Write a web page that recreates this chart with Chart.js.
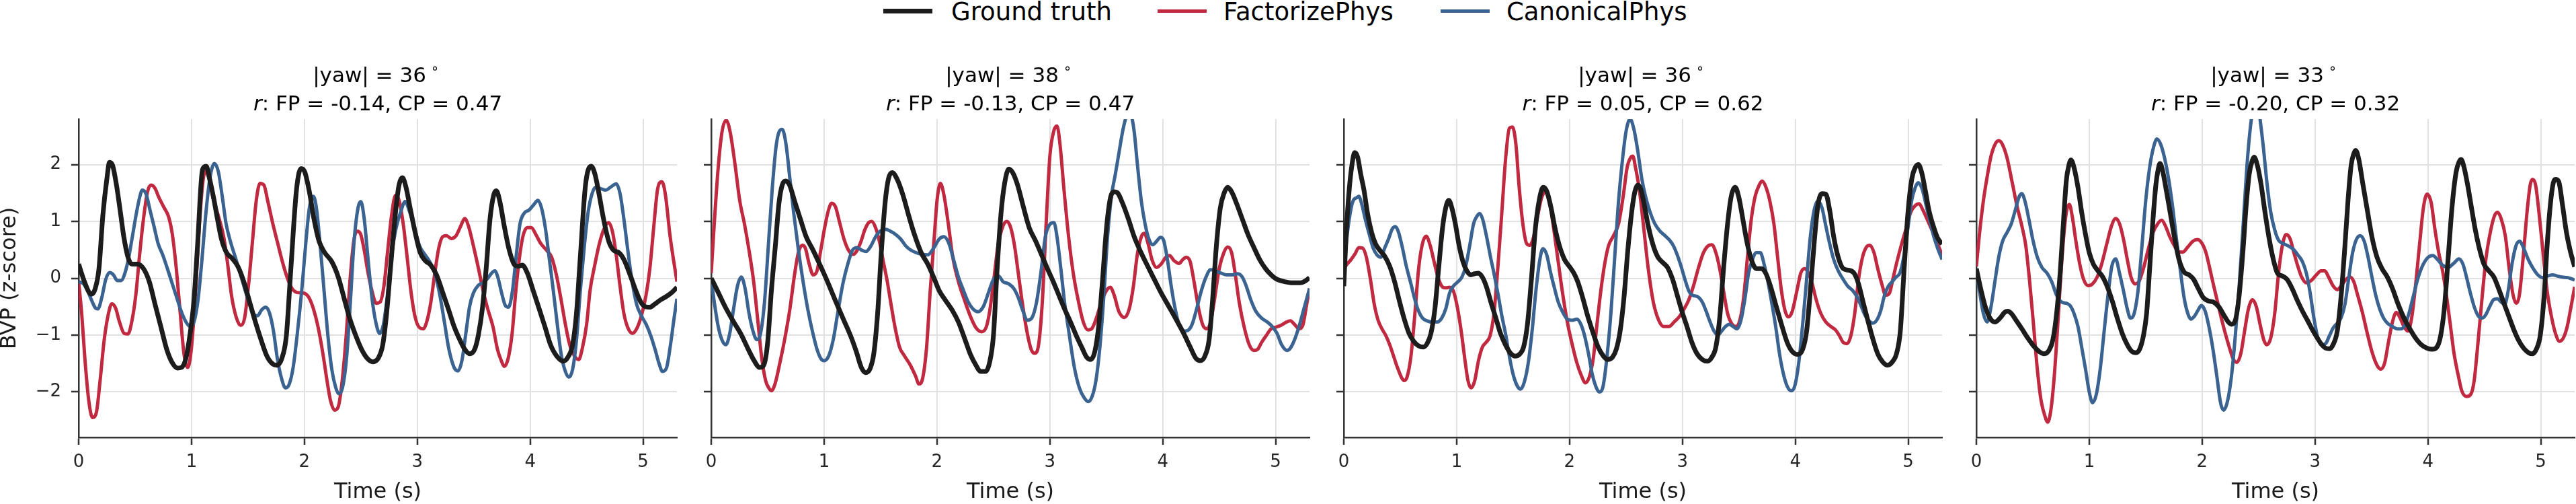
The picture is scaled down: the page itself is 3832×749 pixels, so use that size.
<!DOCTYPE html>
<html>
<head>
<meta charset="utf-8">
<title>BVP predictions vs ground truth</title>
<script src="https://cdn.jsdelivr.net/npm/chart.js@4.4.1/dist/chart.umd.min.js"></script>
<style>
  html, body { margin: 0; padding: 0; background: #fff; }
  #fig { position: relative; width: 3832px; height: 749px; overflow: hidden; font-family: 'DejaVu Sans', sans-serif; }
  #fig canvas { position: absolute; top: 0; }
  .lg-line { position: absolute; }
  .lg-text { position: absolute; font-size: 37px; line-height: 37px; color: #000; white-space: nowrap; }
</style>
</head>
<body>
<div id="fig"></div>
<script>
// ---- values: [time (s), BVP z-score] ----
const legendLabels = ['Ground truth', 'FactorizePhys', 'CanonicalPhys'];
const yawDeg = [36, 38, 36, 33];
const rFP = [-0.14, -0.13, 0.05, -0.20];
const rCP = [0.47, 0.47, 0.62, 0.32];
const xTicks = [0, 1, 2, 3, 4, 5];
const yTicks = [-2, -1, 0, 1, 2];

// panel 1
const gt1 = [[0,0.25],[0.044,-0.02],[0.09,-0.24],[0.113,-0.28],[0.147,-0.18],[0.18,0.17],[0.215,1.12],[0.25,1.75],[0.274,2.04],[0.3,1.99],[0.335,1.64],[0.37,1.16],[0.4,0.73],[0.437,0.37],[0.47,0.25],[0.52,0.25],[0.574,0.17],[0.626,-0.06],[0.677,-0.46],[0.728,-0.85],[0.78,-1.25],[0.83,-1.49],[0.875,-1.58],[0.91,-1.57],[0.95,-1.41],[0.985,-1.01],[1.02,-0.42],[1.053,0.57],[1.097,1.91],[1.13,1.97],[1.16,1.75],[1.197,1.4],[1.23,1.04],[1.265,0.69],[1.31,0.45],[1.36,0.35],[1.41,0.21],[1.463,-0.06],[1.515,-0.42],[1.566,-0.77],[1.617,-1.09],[1.668,-1.37],[1.72,-1.51],[1.754,-1.53],[1.8,-1.41],[1.84,-1.01],[1.88,0.17],[1.93,1.56],[1.97,1.93],[2.003,1.87],[2.044,1.52],[2.085,1.04],[2.13,0.65],[2.18,0.45],[2.243,0.29],[2.3,0.02],[2.35,-0.34],[2.4,-0.7],[2.455,-1.01],[2.506,-1.25],[2.557,-1.41],[2.608,-1.47],[2.653,-1.41],[2.694,-1.17],[2.728,-0.62],[2.762,0.17],[2.807,1.16],[2.838,1.64],[2.868,1.77],[2.9,1.6],[2.94,1.2],[2.985,0.77],[3.026,0.45],[3.07,0.31],[3.12,0.23],[3.17,0.06],[3.22,-0.22],[3.275,-0.54],[3.326,-0.85],[3.378,-1.09],[3.42,-1.25],[3.463,-1.33],[3.508,-1.25],[3.54,-1.01],[3.576,-0.54],[3.61,0.17],[3.644,1.04],[3.679,1.48],[3.7,1.54],[3.73,1.36],[3.77,0.92],[3.81,0.53],[3.856,0.25],[3.89,0.21],[3.93,0.23],[3.975,0.09],[4.027,-0.22],[4.08,-0.54],[4.13,-0.85],[4.18,-1.17],[4.235,-1.37],[4.294,-1.46],[4.34,-1.37],[4.376,-1.17],[4.41,-0.62],[4.444,0.37],[4.49,1.64],[4.54,1.97],[4.574,1.83],[4.61,1.48],[4.65,1.04],[4.696,0.65],[4.74,0.49],[4.786,0.45],[4.83,0.33],[4.885,0.06],[4.936,-0.22],[4.98,-0.42],[5.02,-0.5],[5.06,-0.51],[5.1,-0.46],[5.155,-0.38],[5.207,-0.32],[5.26,-0.24],[5.3,-0.16]];
const fp1 = [[0,-0.06],[0.027,-0.62],[0.055,-1.41],[0.09,-2.16],[0.123,-2.45],[0.157,-2.36],[0.19,-1.8],[0.226,-1.09],[0.26,-0.66],[0.294,-0.45],[0.328,-0.53],[0.362,-0.77],[0.403,-0.97],[0.437,-0.98],[0.47,-0.77],[0.506,-0.3],[0.54,0.41],[0.574,1.04],[0.61,1.52],[0.643,1.64],[0.677,1.58],[0.711,1.42],[0.752,1.26],[0.797,1.08],[0.83,0.77],[0.865,0.17],[0.9,-0.62],[0.933,-1.33],[0.967,-1.57],[1,-1.21],[1.036,-0.22],[1.07,0.96],[1.104,1.75],[1.128,1.88],[1.155,1.75],[1.197,1.36],[1.24,1.08],[1.285,0.73],[1.32,0.25],[1.354,-0.3],[1.395,-0.68],[1.436,-0.83],[1.47,-0.7],[1.504,-0.14],[1.54,0.65],[1.573,1.36],[1.607,1.67],[1.641,1.64],[1.675,1.36],[1.72,0.96],[1.764,0.61],[1.805,0.29],[1.846,0.02],[1.89,-0.18],[1.935,-0.25],[1.993,-0.26],[2.04,-0.34],[2.08,-0.54],[2.12,-0.85],[2.164,-1.33],[2.2,-1.8],[2.232,-2.16],[2.267,-2.32],[2.3,-2.26],[2.335,-1.8],[2.37,-1.01],[2.403,-0.06],[2.437,0.65],[2.47,0.83],[2.499,0.77],[2.53,0.49],[2.564,0.09],[2.598,-0.22],[2.636,-0.44],[2.67,-0.42],[2.704,-0.14],[2.738,0.49],[2.773,1.12],[2.807,1.46],[2.84,1.36],[2.875,0.96],[2.91,0.37],[2.943,-0.22],[2.978,-0.66],[3.02,-0.87],[3.053,-0.89],[3.087,-0.74],[3.12,-0.42],[3.155,0.09],[3.19,0.53],[3.224,0.73],[3.258,0.75],[3.3,0.7],[3.344,0.75],[3.385,0.92],[3.42,1.05],[3.453,0.92],[3.497,0.57],[3.542,0.17],[3.583,-0.22],[3.624,-0.54],[3.67,-0.85],[3.71,-1.25],[3.744,-1.45],[3.77,-1.55],[3.805,-1.41],[3.84,-0.97],[3.873,-0.22],[3.908,0.41],[3.94,0.77],[3.976,0.89],[4.01,0.89],[4.05,0.77],[4.094,0.61],[4.147,0.49],[4.19,0.37],[4.232,0.06],[4.274,-0.38],[4.308,-0.77],[4.35,-1.17],[4.393,-1.37],[4.43,-1.43],[4.46,-1.25],[4.5,-0.81],[4.53,-0.22],[4.574,0.25],[4.608,0.57],[4.65,0.85],[4.694,0.98],[4.73,0.81],[4.762,0.41],[4.796,-0.14],[4.83,-0.62],[4.865,-0.87],[4.906,-0.97],[4.943,-0.89],[4.985,-0.66],[5.026,-0.3],[5.06,0.17],[5.094,0.89],[5.128,1.56],[5.166,1.7],[5.197,1.48],[5.24,0.73],[5.3,-0.06]];
const cp1 = [[0,-0.06],[0.044,-0.1],[0.079,-0.22],[0.113,-0.38],[0.147,-0.52],[0.17,-0.54],[0.205,-0.34],[0.24,-0.02],[0.274,0.1],[0.308,0.06],[0.342,-0.04],[0.376,-0.04],[0.41,0.09],[0.444,0.37],[0.479,0.77],[0.513,1.16],[0.54,1.42],[0.564,1.55],[0.598,1.48],[0.632,1.2],[0.667,0.92],[0.704,0.61],[0.745,0.41],[0.786,0.17],[0.83,-0.1],[0.875,-0.38],[0.916,-0.62],[0.957,-0.79],[0.99,-0.85],[1.026,-0.74],[1.06,-0.34],[1.094,0.37],[1.128,1.16],[1.162,1.75],[1.203,2.02],[1.238,1.87],[1.272,1.44],[1.306,0.96],[1.344,0.65],[1.388,0.37],[1.43,0.09],[1.47,-0.18],[1.515,-0.46],[1.552,-0.64],[1.586,-0.66],[1.62,-0.56],[1.658,-0.51],[1.692,-0.62],[1.726,-0.93],[1.76,-1.41],[1.797,-1.76],[1.832,-1.93],[1.866,-1.86],[1.9,-1.57],[1.935,-1.01],[1.976,-0.22],[2.01,0.57],[2.044,1.24],[2.079,1.44],[2.106,1.24],[2.14,0.57],[2.174,-0.22],[2.208,-1.01],[2.243,-1.61],[2.277,-1.92],[2.304,-2.03],[2.338,-1.92],[2.373,-1.41],[2.407,-0.42],[2.44,0.65],[2.475,1.24],[2.5,1.35],[2.53,1.04],[2.564,0.33],[2.598,-0.34],[2.632,-0.77],[2.667,-0.97],[2.7,-0.81],[2.735,-0.3],[2.77,0.37],[2.813,0.89],[2.858,1.2],[2.892,1.35],[2.933,1.16],[2.974,0.89],[3.02,0.57],[3.07,0.41],[3.11,0.29],[3.155,0.09],[3.2,-0.3],[3.24,-0.77],[3.28,-1.25],[3.326,-1.57],[3.36,-1.63],[3.395,-1.45],[3.43,-0.97],[3.463,-0.5],[3.497,-0.26],[3.542,-0.12],[3.583,-0.08],[3.624,0],[3.658,0.09],[3.687,0.13],[3.713,0.02],[3.747,-0.26],[3.78,-0.48],[3.808,-0.51],[3.843,-0.22],[3.877,0.41],[3.91,0.96],[3.945,1.14],[3.99,1.2],[4.034,1.3],[4.068,1.37],[4.1,1.24],[4.137,0.85],[4.17,0.33],[4.205,-0.22],[4.24,-0.81],[4.274,-1.33],[4.308,-1.62],[4.342,-1.74],[4.376,-1.6],[4.41,-1.09],[4.444,-0.22],[4.48,0.57],[4.513,1.16],[4.547,1.48],[4.58,1.6],[4.62,1.58],[4.67,1.55],[4.71,1.6],[4.762,1.66],[4.797,1.48],[4.83,1.04],[4.865,0.49],[4.9,-0.02],[4.943,-0.46],[4.985,-0.66],[5.027,-0.81],[5.068,-1.01],[5.106,-1.25],[5.14,-1.49],[5.172,-1.64],[5.207,-1.58],[5.24,-1.21],[5.275,-0.7],[5.3,-0.36]];

// panel 2
const gt2 = [[0,0],[0.055,-0.22],[0.123,-0.5],[0.19,-0.74],[0.26,-0.97],[0.328,-1.25],[0.38,-1.45],[0.43,-1.57],[0.465,-1.53],[0.5,-1.13],[0.533,-0.22],[0.568,0.57],[0.6,1.32],[0.629,1.64],[0.66,1.71],[0.694,1.64],[0.738,1.36],[0.79,1.04],[0.841,0.73],[0.903,0.49],[0.96,0.25],[1.03,-0.06],[1.097,-0.38],[1.166,-0.7],[1.234,-1.01],[1.285,-1.29],[1.33,-1.57],[1.368,-1.66],[1.405,-1.6],[1.44,-1.33],[1.474,-0.62],[1.508,0.49],[1.542,1.36],[1.57,1.75],[1.603,1.86],[1.645,1.75],[1.696,1.48],[1.747,1.12],[1.8,0.77],[1.86,0.45],[1.918,0.25],[1.97,0.02],[2.02,-0.22],[2.072,-0.38],[2.14,-0.58],[2.19,-0.77],[2.243,-1.05],[2.294,-1.33],[2.345,-1.53],[2.386,-1.64],[2.43,-1.64],[2.465,-1.49],[2.5,-1.01],[2.533,0.17],[2.568,1.16],[2.6,1.68],[2.636,1.92],[2.673,1.85],[2.714,1.64],[2.762,1.28],[2.817,0.89],[2.875,0.65],[2.927,0.41],[2.978,0.17],[3.03,-0.06],[3.08,-0.3],[3.13,-0.54],[3.183,-0.77],[3.234,-1.01],[3.286,-1.23],[3.326,-1.39],[3.36,-1.43],[3.398,-1.29],[3.432,-0.85],[3.467,-0.02],[3.5,0.85],[3.535,1.4],[3.57,1.52],[3.6,1.5],[3.644,1.32],[3.696,1.04],[3.747,0.73],[3.808,0.45],[3.867,0.21],[3.925,-0.02],[3.986,-0.26],[4.055,-0.5],[4.123,-0.74],[4.185,-0.97],[4.243,-1.21],[4.294,-1.41],[4.335,-1.45],[4.373,-1.37],[4.41,-1.09],[4.44,-0.42],[4.475,0.57],[4.51,1.24],[4.544,1.5],[4.575,1.6],[4.61,1.52],[4.653,1.32],[4.705,1.04],[4.755,0.77],[4.81,0.53],[4.858,0.33],[4.91,0.17],[4.96,0.06],[5.012,-0.02],[5.08,-0.06],[5.149,-0.08],[5.217,-0.08],[5.268,-0.04],[5.3,0.01]];
const fp2 = [[0,0.09],[0.027,0.96],[0.062,1.95],[0.096,2.58],[0.133,2.78],[0.168,2.57],[0.209,2.03],[0.253,1.36],[0.294,0.96],[0.335,0.49],[0.376,-0.06],[0.414,-0.77],[0.448,-1.41],[0.482,-1.8],[0.51,-1.93],[0.533,-1.98],[0.568,-1.84],[0.608,-1.49],[0.653,-1.05],[0.697,-0.54],[0.738,0.06],[0.772,0.45],[0.807,0.58],[0.834,0.53],[0.868,0.25],[0.903,0.06],[0.937,0.13],[0.97,0.49],[1.005,0.89],[1.039,1.2],[1.067,1.32],[1.1,1.26],[1.135,1],[1.176,0.69],[1.217,0.49],[1.258,0.42],[1.292,0.49],[1.327,0.65],[1.36,0.85],[1.395,0.98],[1.422,1],[1.456,0.89],[1.49,0.65],[1.525,0.29],[1.56,-0.06],[1.593,-0.46],[1.627,-0.85],[1.668,-1.21],[1.713,-1.37],[1.764,-1.53],[1.81,-1.72],[1.84,-1.86],[1.873,-1.76],[1.908,-1.21],[1.94,-0.22],[1.976,0.73],[2,1.36],[2.03,1.67],[2.06,1.48],[2.1,0.96],[2.14,0.37],[2.19,-0.06],[2.243,-0.38],[2.294,-0.66],[2.345,-0.87],[2.396,-0.94],[2.438,-0.85],[2.47,-0.54],[2.506,0.02],[2.54,0.57],[2.585,0.92],[2.62,1],[2.653,0.89],[2.687,0.57],[2.72,0.09],[2.755,-0.42],[2.796,-0.93],[2.834,-1.25],[2.865,-1.32],[2.9,-1.17],[2.933,-0.42],[2.967,0.96],[3,2.15],[3.036,2.6],[3.063,2.68],[3.09,2.35],[3.125,1.56],[3.166,0.73],[3.207,0.09],[3.25,-0.38],[3.296,-0.77],[3.337,-0.91],[3.37,-0.89],[3.412,-0.7],[3.456,-0.42],[3.5,-0.22],[3.535,-0.16],[3.57,-0.3],[3.61,-0.58],[3.66,-0.69],[3.703,-0.54],[3.74,-0.14],[3.774,0.41],[3.81,0.73],[3.836,0.79],[3.87,0.61],[3.904,0.33],[3.945,0.19],[3.986,0.25],[4.027,0.37],[4.06,0.4],[4.1,0.31],[4.144,0.26],[4.178,0.33],[4.208,0.37],[4.243,0.29],[4.277,-0.06],[4.318,-0.54],[4.356,-0.83],[4.39,-0.89],[4.424,-0.77],[4.458,-0.38],[4.5,0.17],[4.541,0.45],[4.575,0.55],[4.61,0.45],[4.643,0.06],[4.677,-0.42],[4.72,-0.85],[4.766,-1.17],[4.807,-1.27],[4.841,-1.25],[4.875,-1.13],[4.916,-1.01],[4.96,-0.89],[5.005,-0.86],[5.046,-0.83],[5.097,-0.77],[5.13,-0.75],[5.166,-0.81],[5.207,-0.89],[5.24,-0.83],[5.275,-0.46],[5.3,-0.18]];
const cp2 = [[0,0],[0.027,-0.42],[0.062,-0.85],[0.096,-1.09],[0.13,-1.17],[0.164,-0.97],[0.198,-0.54],[0.232,-0.14],[0.267,0.02],[0.3,-0.18],[0.335,-0.62],[0.37,-0.93],[0.403,-1.08],[0.437,-0.97],[0.472,-0.42],[0.506,0.57],[0.54,1.56],[0.574,2.31],[0.6,2.57],[0.629,2.62],[0.663,2.35],[0.697,1.75],[0.73,1.16],[0.773,0.49],[0.814,-0.06],[0.855,-0.54],[0.896,-0.93],[0.937,-1.25],[0.97,-1.41],[1,-1.45],[1.04,-1.37],[1.08,-1.09],[1.12,-0.62],[1.166,-0.1],[1.21,0.25],[1.25,0.49],[1.292,0.54],[1.337,0.49],[1.371,0.47],[1.415,0.57],[1.456,0.73],[1.497,0.83],[1.542,0.86],[1.586,0.83],[1.634,0.77],[1.678,0.69],[1.723,0.57],[1.764,0.5],[1.815,0.45],[1.867,0.42],[1.918,0.41],[1.97,0.53],[2.02,0.69],[2.062,0.73],[2.106,0.61],[2.147,0.33],[2.19,0.02],[2.236,-0.22],[2.277,-0.42],[2.318,-0.54],[2.362,-0.59],[2.41,-0.5],[2.455,-0.26],[2.5,-0.02],[2.544,0.04],[2.585,-0.06],[2.636,-0.1],[2.68,-0.18],[2.72,-0.34],[2.762,-0.58],[2.8,-0.74],[2.84,-0.7],[2.882,-0.42],[2.92,0.09],[2.96,0.73],[3.005,0.96],[3.036,0.98],[3.063,0.73],[3.097,0.17],[3.13,-0.42],[3.173,-1.01],[3.217,-1.57],[3.26,-1.92],[3.303,-2.1],[3.34,-2.17],[3.374,-2.08],[3.408,-1.8],[3.443,-1.21],[3.477,-0.34],[3.511,0.73],[3.545,1.44],[3.58,1.83],[3.614,2.23],[3.648,2.62],[3.682,2.88],[3.7,2.95],[3.72,2.88],[3.747,2.58],[3.774,2.03],[3.81,1.36],[3.843,0.96],[3.877,0.69],[3.91,0.59],[3.945,0.65],[3.98,0.72],[4.007,0.67],[4.041,0.33],[4.075,-0.14],[4.11,-0.54],[4.144,-0.81],[4.185,-0.93],[4.22,-0.92],[4.26,-0.81],[4.3,-0.54],[4.342,-0.22],[4.383,0.02],[4.424,0.15],[4.465,0.13],[4.516,0.09],[4.568,0.06],[4.62,0.06],[4.663,0.08],[4.705,0.02],[4.74,-0.14],[4.78,-0.38],[4.824,-0.58],[4.875,-0.7],[4.926,-0.77],[4.97,-0.85],[5.012,-0.97],[5.053,-1.17],[5.1,-1.27],[5.13,-1.23],[5.166,-1.09],[5.207,-0.85],[5.25,-0.54],[5.3,-0.18]];

// panel 3
const gt3 = [[0,-0.14],[0.02,0.73],[0.048,1.56],[0.072,1.99],[0.096,2.21],[0.123,2.13],[0.15,1.83],[0.178,1.56],[0.212,1.12],[0.246,0.81],[0.28,0.61],[0.32,0.49],[0.362,0.39],[0.407,0.21],[0.45,-0.06],[0.49,-0.38],[0.533,-0.7],[0.578,-0.97],[0.62,-1.11],[0.663,-1.19],[0.704,-1.21],[0.738,-1.15],[0.772,-0.97],[0.807,-0.54],[0.84,0.17],[0.875,0.89],[0.903,1.24],[0.93,1.37],[0.957,1.24],[0.988,0.96],[1.022,0.57],[1.056,0.29],[1.09,0.13],[1.125,0.06],[1.16,0.08],[1.193,0.09],[1.227,0.02],[1.262,-0.14],[1.303,-0.42],[1.347,-0.7],[1.388,-0.97],[1.432,-1.17],[1.474,-1.31],[1.518,-1.37],[1.56,-1.33],[1.593,-1.21],[1.627,-0.81],[1.662,-0.02],[1.696,0.85],[1.73,1.36],[1.767,1.6],[1.8,1.52],[1.836,1.24],[1.87,0.89],[1.91,0.57],[1.955,0.33],[1.997,0.21],[2.038,0.09],[2.072,-0.06],[2.116,-0.34],[2.16,-0.66],[2.21,-0.97],[2.253,-1.21],[2.3,-1.37],[2.338,-1.43],[2.38,-1.39],[2.414,-1.25],[2.448,-0.93],[2.482,-0.34],[2.516,0.49],[2.55,1.16],[2.578,1.52],[2.605,1.64],[2.632,1.56],[2.663,1.28],[2.697,0.92],[2.742,0.57],[2.783,0.37],[2.824,0.28],[2.868,0.19],[2.913,-0.02],[2.954,-0.3],[2.995,-0.58],[3.04,-0.85],[3.084,-1.13],[3.13,-1.33],[3.176,-1.43],[3.22,-1.46],[3.26,-1.39],[3.296,-1.21],[3.33,-0.7],[3.364,0.17],[3.4,0.96],[3.432,1.44],[3.467,1.6],[3.5,1.42],[3.535,1.04],[3.57,0.65],[3.61,0.33],[3.655,0.17],[3.7,0.17],[3.74,0.08],[3.78,-0.14],[3.826,-0.46],[3.877,-0.81],[3.928,-1.13],[3.973,-1.29],[4.02,-1.34],[4.065,-1.25],[4.1,-0.93],[4.133,-0.22],[4.168,0.65],[4.2,1.28],[4.236,1.49],[4.27,1.48],[4.304,1.2],[4.34,0.73],[4.38,0.37],[4.424,0.17],[4.475,0.14],[4.52,0.09],[4.56,-0.1],[4.6,-0.42],[4.646,-0.77],[4.69,-1.09],[4.73,-1.33],[4.773,-1.47],[4.817,-1.53],[4.86,-1.47],[4.896,-1.33],[4.93,-0.93],[4.964,0.17],[4.998,1.16],[5.032,1.75],[5.063,1.95],[5.09,2],[5.118,1.87],[5.15,1.56],[5.183,1.2],[5.227,0.89],[5.26,0.71],[5.3,0.6]];
const fp3 = [[0,0.17],[0.03,0.25],[0.065,0.33],[0.1,0.43],[0.133,0.54],[0.167,0.53],[0.2,0.37],[0.236,-0.02],[0.27,-0.46],[0.304,-0.74],[0.338,-0.89],[0.373,-1.01],[0.407,-1.17],[0.441,-1.37],[0.475,-1.57],[0.51,-1.74],[0.533,-1.8],[0.56,-1.74],[0.595,-1.37],[0.63,-0.62],[0.663,0.17],[0.697,0.61],[0.73,0.74],[0.766,0.57],[0.8,0.29],[0.834,0.02],[0.868,-0.14],[0.9,-0.17],[0.937,-0.16],[0.97,-0.22],[1.005,-0.5],[1.04,-0.93],[1.074,-1.45],[1.1,-1.8],[1.128,-1.93],[1.16,-1.8],[1.193,-1.45],[1.228,-1.21],[1.26,-1.13],[1.296,-1.01],[1.33,-0.62],[1.364,0.17],[1.4,1.16],[1.432,2.07],[1.467,2.64],[1.494,2.66],[1.525,2.35],[1.552,1.64],[1.586,0.96],[1.62,0.61],[1.648,0.58],[1.682,0.73],[1.716,1.08],[1.75,1.4],[1.785,1.52],[1.82,1.36],[1.853,0.96],[1.894,0.37],[1.935,-0.22],[1.98,-0.77],[2.024,-1.17],[2.065,-1.49],[2.106,-1.72],[2.14,-1.84],[2.174,-1.74],[2.21,-1.41],[2.243,-0.81],[2.277,-0.22],[2.311,0.25],[2.345,0.57],[2.39,0.75],[2.434,0.96],[2.475,1.44],[2.51,1.95],[2.543,2.13],[2.56,2.15],[2.584,1.95],[2.618,1.56],[2.653,0.96],[2.697,0.17],[2.742,-0.42],[2.79,-0.74],[2.834,-0.85],[2.88,-0.85],[2.926,-0.77],[2.97,-0.68],[3.015,-0.54],[3.056,-0.38],[3.097,-0.14],[3.14,0.17],[3.186,0.45],[3.227,0.57],[3.26,0.59],[3.296,0.45],[3.33,0.17],[3.364,-0.22],[3.4,-0.62],[3.44,-0.81],[3.474,-0.85],[3.508,-0.74],[3.542,-0.34],[3.576,0.37],[3.61,1.04],[3.644,1.44],[3.68,1.64],[3.706,1.71],[3.74,1.6],[3.774,1.36],[3.81,0.96],[3.843,0.37],[3.877,-0.22],[3.91,-0.58],[3.94,-0.68],[3.973,-0.58],[4.014,-0.22],[4.048,0.09],[4.082,0.17],[4.116,0.09],[4.15,-0.1],[4.185,-0.38],[4.226,-0.62],[4.27,-0.77],[4.315,-0.85],[4.356,-0.91],[4.39,-1.01],[4.424,-1.13],[4.458,-1.15],[4.492,-1.01],[4.526,-0.62],[4.56,-0.02],[4.595,0.37],[4.63,0.55],[4.66,0.58],[4.697,0.45],[4.73,0.17],[4.766,-0.1],[4.8,-0.3],[4.834,-0.26],[4.868,0.02],[4.9,0.29],[4.937,0.57],[4.978,0.85],[5.022,1.16],[5.063,1.28],[5.097,1.31],[5.13,1.2],[5.176,1],[5.227,0.77],[5.3,0.41]];
const cp3 = [[0,0.09],[0.02,0.57],[0.048,1.04],[0.082,1.36],[0.116,1.42],[0.133,1.44],[0.157,1.32],[0.19,1.04],[0.226,0.77],[0.26,0.53],[0.294,0.41],[0.328,0.37],[0.362,0.53],[0.396,0.69],[0.43,0.87],[0.458,0.91],[0.485,0.81],[0.52,0.53],[0.554,0.21],[0.595,-0.1],[0.63,-0.38],[0.663,-0.58],[0.697,-0.7],[0.738,-0.75],[0.783,-0.77],[0.828,-0.77],[0.868,-0.7],[0.903,-0.54],[0.937,-0.26],[0.97,-0.14],[1.012,-0.06],[1.046,0.02],[1.08,0.21],[1.115,0.57],[1.15,0.96],[1.176,1.08],[1.203,1.14],[1.23,1.04],[1.265,0.73],[1.3,0.37],[1.333,0.06],[1.368,-0.3],[1.4,-0.66],[1.436,-1.01],[1.47,-1.41],[1.504,-1.72],[1.538,-1.9],[1.566,-1.95],[1.6,-1.82],[1.634,-1.49],[1.668,-0.93],[1.702,-0.22],[1.737,0.33],[1.764,0.52],[1.798,0.41],[1.833,0.09],[1.867,-0.18],[1.9,-0.42],[1.935,-0.58],[1.98,-0.72],[2.024,-0.74],[2.065,-0.72],[2.1,-0.81],[2.133,-1.01],[2.168,-1.33],[2.2,-1.68],[2.236,-1.92],[2.263,-2],[2.297,-1.9],[2.33,-1.41],[2.366,-0.62],[2.4,0.37],[2.434,1.36],[2.468,2.07],[2.5,2.58],[2.537,2.8],[2.57,2.62],[2.605,2.23],[2.64,1.75],[2.673,1.44],[2.714,1.16],[2.755,0.96],[2.8,0.83],[2.845,0.75],[2.886,0.67],[2.92,0.57],[2.954,0.41],[2.988,0.21],[3.022,-0.02],[3.056,-0.22],[3.09,-0.3],[3.13,-0.32],[3.176,-0.42],[3.21,-0.58],[3.245,-0.77],[3.28,-0.93],[3.313,-1],[3.347,-0.93],[3.38,-0.85],[3.415,-0.81],[3.45,-0.85],[3.484,-0.89],[3.518,-0.74],[3.552,-0.38],[3.586,0.09],[3.62,0.33],[3.655,0.45],[3.69,0.45],[3.723,0.25],[3.757,-0.06],[3.79,-0.42],[3.826,-0.85],[3.86,-1.33],[3.894,-1.68],[3.928,-1.9],[3.963,-1.98],[3.997,-1.88],[4.03,-1.49],[4.065,-0.81],[4.1,-0.02],[4.133,0.73],[4.167,1.2],[4.2,1.36],[4.236,1.24],[4.27,0.92],[4.304,0.61],[4.34,0.33],[4.38,0.13],[4.424,-0.02],[4.465,-0.14],[4.51,-0.22],[4.55,-0.34],[4.585,-0.5],[4.62,-0.66],[4.653,-0.75],[4.687,-0.79],[4.72,-0.74],[4.755,-0.58],[4.79,-0.3],[4.824,-0.14],[4.858,-0.06],[4.892,0.02],[4.926,0.09],[4.96,0.37],[4.995,0.85],[5.03,1.36],[5.063,1.6],[5.09,1.68],[5.125,1.56],[5.159,1.28],[5.193,1],[5.227,0.73],[5.26,0.53],[5.3,0.33]];

// panel 4
const gt4 = [[0,0.17],[0.038,-0.18],[0.079,-0.5],[0.12,-0.7],[0.164,-0.77],[0.21,-0.7],[0.25,-0.6],[0.277,-0.58],[0.31,-0.62],[0.352,-0.74],[0.403,-0.89],[0.455,-1.05],[0.506,-1.19],[0.557,-1.29],[0.6,-1.33],[0.643,-1.27],[0.677,-1.09],[0.711,-0.62],[0.745,0.17],[0.773,1.04],[0.797,1.72],[0.82,1.99],[0.838,2.08],[0.865,1.95],[0.9,1.6],[0.933,1.16],[0.967,0.77],[1,0.45],[1.036,0.25],[1.077,0.13],[1.12,0.02],[1.166,-0.18],[1.207,-0.42],[1.248,-0.7],[1.292,-0.97],[1.337,-1.17],[1.378,-1.29],[1.412,-1.31],[1.446,-1.25],[1.48,-1.01],[1.508,-0.62],[1.535,0.17],[1.562,0.96],[1.59,1.64],[1.61,1.91],[1.627,2.02],[1.65,1.89],[1.685,1.52],[1.72,1.12],[1.754,0.73],[1.795,0.33],[1.84,0.11],[1.884,0.06],[1.925,-0.02],[1.966,-0.18],[2.01,-0.34],[2.055,-0.4],[2.1,-0.42],[2.147,-0.5],[2.19,-0.64],[2.232,-0.77],[2.26,-0.81],[2.294,-0.74],[2.328,-0.3],[2.362,0.49],[2.39,1.28],[2.417,1.83],[2.444,2.07],[2.46,2.13],[2.489,1.99],[2.523,1.64],[2.557,1.16],[2.591,0.73],[2.626,0.37],[2.667,0.09],[2.711,0.04],[2.752,-0.02],[2.797,-0.18],[2.841,-0.38],[2.889,-0.58],[2.933,-0.74],[2.978,-0.91],[3.02,-1.05],[3.06,-1.17],[3.094,-1.23],[3.128,-1.24],[3.16,-1.17],[3.197,-0.93],[3.23,-0.34],[3.265,0.57],[3.292,1.36],[3.32,1.99],[3.343,2.19],[3.36,2.25],[3.388,2.09],[3.422,1.68],[3.463,1.2],[3.504,0.73],[3.549,0.37],[3.593,0.17],[3.641,0.02],[3.686,-0.18],[3.737,-0.46],[3.788,-0.7],[3.84,-0.89],[3.89,-1.05],[3.942,-1.17],[3.993,-1.23],[4.038,-1.25],[4.08,-1.21],[4.113,-1.01],[4.147,-0.5],[4.18,0.37],[4.215,1.28],[4.25,1.87],[4.277,2.05],[4.294,2.09],[4.318,1.97],[4.352,1.64],[4.386,1.24],[4.42,0.85],[4.455,0.53],[4.496,0.25],[4.54,0.13],[4.585,0.02],[4.626,-0.18],[4.67,-0.42],[4.715,-0.66],[4.762,-0.91],[4.803,-1.09],[4.848,-1.23],[4.892,-1.31],[4.926,-1.33],[4.96,-1.25],[4.995,-1.01],[5.03,-0.3],[5.056,0.57],[5.084,1.28],[5.111,1.68],[5.13,1.74],[5.159,1.7],[5.193,1.28],[5.227,0.81],[5.26,0.49],[5.3,0.2]];
const fp4 = [[0,0.21],[0.027,0.77],[0.062,1.36],[0.096,1.79],[0.13,2.15],[0.164,2.35],[0.198,2.42],[0.232,2.35],[0.273,2.11],[0.318,1.68],[0.359,1.28],[0.403,0.92],[0.438,0.57],[0.472,-0.06],[0.506,-0.81],[0.54,-1.6],[0.574,-2.16],[0.608,-2.43],[0.632,-2.53],[0.66,-2.32],[0.687,-1.8],[0.715,-1.01],[0.742,-0.14],[0.77,0.65],[0.797,1.16],[0.824,1.3],[0.85,1.08],[0.882,0.65],[0.916,0.25],[0.95,-0.02],[0.99,-0.13],[1.029,-0.1],[1.07,0.02],[1.11,0.25],[1.156,0.61],[1.197,0.92],[1.234,1.05],[1.268,0.96],[1.303,0.69],[1.337,0.33],[1.37,0.02],[1.405,-0.1],[1.44,-0.06],[1.48,0.17],[1.52,0.49],[1.566,0.81],[1.607,0.96],[1.641,1.02],[1.675,0.92],[1.713,0.73],[1.754,0.57],[1.788,0.47],[1.829,0.46],[1.873,0.55],[1.918,0.65],[1.959,0.68],[2,0.61],[2.034,0.45],[2.068,0.17],[2.103,-0.14],[2.137,-0.42],[2.17,-0.7],[2.205,-0.97],[2.24,-1.21],[2.273,-1.41],[2.308,-1.48],[2.342,-1.33],[2.376,-0.93],[2.41,-0.54],[2.445,-0.38],[2.48,-0.5],[2.513,-0.81],[2.547,-1.09],[2.574,-1.17],[2.608,-1.05],[2.643,-0.62],[2.677,0.09],[2.71,0.57],[2.745,0.77],[2.78,0.69],[2.813,0.45],[2.848,0.21],[2.882,0.02],[2.923,-0.08],[2.967,-0.04],[3.012,0.06],[3.053,0.13],[3.087,0.13],[3.12,0.02],[3.162,-0.14],[3.197,-0.2],[3.23,-0.14],[3.275,-0.02],[3.31,0.02],[3.343,-0.06],[3.378,-0.3],[3.422,-0.62],[3.463,-0.97],[3.504,-1.29],[3.549,-1.53],[3.583,-1.6],[3.617,-1.49],[3.65,-1.13],[3.686,-0.77],[3.72,-0.6],[3.754,-0.7],[3.788,-0.85],[3.822,-0.93],[3.856,-0.7],[3.89,-0.14],[3.925,0.57],[3.96,1.24],[3.993,1.48],[4.03,1.32],[4.06,0.89],[4.096,0.45],[4.13,0.13],[4.164,-0.3],[4.198,-0.81],[4.232,-1.33],[4.27,-1.72],[4.3,-1.98],[4.342,-2.08],[4.38,-2.04],[4.41,-1.8],[4.44,-1.21],[4.48,-0.34],[4.516,0.37],[4.557,0.85],[4.59,1.1],[4.617,1.16],[4.65,1.04],[4.687,0.73],[4.72,0.17],[4.755,-0.3],[4.783,-0.44],[4.81,-0.3],[4.844,0.37],[4.878,1.16],[4.906,1.64],[4.926,1.74],[4.954,1.64],[4.988,1.08],[5.022,0.41],[5.056,-0.22],[5.097,-0.7],[5.13,-0.97],[5.166,-1.11],[5.2,-1.05],[5.234,-0.85],[5.268,-0.5],[5.3,-0.15]];
const cp4 = [[0,0.09],[0.027,-0.22],[0.062,-0.62],[0.096,-0.77],[0.13,-0.5],[0.164,-0.06],[0.198,0.37],[0.232,0.65],[0.273,0.81],[0.31,0.96],[0.345,1.2],[0.38,1.44],[0.403,1.49],[0.43,1.36],[0.465,1.04],[0.499,0.69],[0.54,0.37],[0.581,0.19],[0.626,0.09],[0.667,-0.06],[0.711,-0.3],[0.755,-0.42],[0.797,-0.44],[0.83,-0.48],[0.865,-0.62],[0.9,-0.85],[0.933,-1.21],[0.967,-1.6],[1,-2],[1.029,-2.19],[1.063,-2.04],[1.097,-1.6],[1.13,-0.97],[1.166,-0.3],[1.2,0.21],[1.234,0.34],[1.268,0.09],[1.303,-0.22],[1.337,-0.54],[1.364,-0.7],[1.398,-0.62],[1.432,-0.22],[1.467,0.57],[1.5,1.36],[1.535,1.95],[1.57,2.31],[1.6,2.45],[1.634,2.35],[1.668,2.11],[1.703,1.75],[1.737,1.28],[1.77,0.73],[1.805,0.17],[1.84,-0.34],[1.873,-0.62],[1.9,-0.72],[1.935,-0.66],[1.97,-0.54],[1.993,-0.48],[2.027,-0.58],[2.06,-0.85],[2.096,-1.25],[2.13,-1.72],[2.164,-2.2],[2.19,-2.32],[2.225,-2.16],[2.26,-1.72],[2.294,-1.01],[2.328,-0.14],[2.362,0.89],[2.396,1.95],[2.43,2.7],[2.465,3.08],[2.49,3.12],[2.513,2.8],[2.54,2.35],[2.574,1.68],[2.608,1.16],[2.643,0.85],[2.677,0.67],[2.718,0.61],[2.762,0.57],[2.807,0.51],[2.848,0.41],[2.889,0.29],[2.923,0.09],[2.957,-0.26],[2.99,-0.7],[3.025,-1.05],[3.06,-1.17],[3.094,-1.15],[3.128,-1.01],[3.162,-0.87],[3.197,-0.79],[3.23,-0.7],[3.265,-0.46],[3.3,0.02],[3.333,0.45],[3.368,0.69],[3.4,0.75],[3.436,0.65],[3.47,0.37],[3.504,0.02],[3.538,-0.3],[3.573,-0.54],[3.607,-0.7],[3.641,-0.79],[3.686,-0.85],[3.73,-0.89],[3.764,-0.89],[3.8,-0.81],[3.832,-0.62],[3.873,-0.3],[3.915,0.02],[3.96,0.25],[4.003,0.37],[4.044,0.4],[4.085,0.33],[4.13,0.23],[4.18,0.19],[4.232,0.27],[4.274,0.34],[4.31,0.25],[4.342,0.02],[4.376,-0.26],[4.41,-0.5],[4.445,-0.66],[4.48,-0.7],[4.513,-0.64],[4.547,-0.5],[4.58,-0.38],[4.615,-0.36],[4.65,-0.42],[4.68,-0.46],[4.711,-0.22],[4.745,0.25],[4.78,0.57],[4.814,0.65],[4.848,0.53],[4.889,0.33],[4.933,0.17],[4.974,0.06],[5.018,0.01],[5.063,0.04],[5.104,0.06],[5.145,0.04],[5.19,0.02],[5.24,0.01],[5.3,-0.03]];

const panels = [
  { gt: gt1, fp: fp1, cp: cp1 },
  { gt: gt2, fp: fp2, cp: cp2 },
  { gt: gt3, fp: fp3, cp: cp3 },
  { gt: gt4, fp: fp4, cp: cp4 },
];

// ---- look ----
const COLORS = ['#1c1c1c', '#c0293f', '#3a6391'];
const WIDTHS = [7, 5, 5];
const FONT = "'DejaVu Sans', sans-serif";
const PLOT_LEFT = [117, 1058, 1999, 2940];
const PLOT_W = 890;
const PLOT_TOP = 177;
const PLOT_BOTTOM = 650;
const FIG_H = 749;
const GRID = '#e1e1e1';
const SPINE = '#333333';
const TITLE_PX = 31;

Chart.defaults.font.family = FONT;

const minus = v => (v < 0 ? '\u2212' + Math.abs(v) : String(v));

// two-line panel title: |yaw| = NN°  /  r: FP = x, CP = y
const panelTitle = {
  id: 'panelTitle',
  afterDraw(chart, args, opts) {
    const { ctx, chartArea } = chart;
    const cx = (chartArea.left + chartArea.right) / 2;
    ctx.save();
    ctx.fillStyle = '#000';
    ctx.textAlign = 'left';
    ctx.textBaseline = 'alphabetic';

    const main = `|yaw| = ${opts.yaw}`;
    ctx.font = `${TITLE_PX}px ${FONT}`;
    const wMain = ctx.measureText(main).width;
    ctx.font = `20px ${FONT}`;
    const ring = ctx.measureText('\u2218');
    const ringW = ring.actualBoundingBoxRight + ring.actualBoundingBoxLeft;
    const total = wMain + 10 + ringW;
    const x0 = cx - total / 2 - 4;
    ctx.font = `${TITLE_PX}px ${FONT}`;
    ctx.fillText(main, x0, 122);
    ctx.font = `20px ${FONT}`;
    ctx.fillText('\u2218', x0 + wMain + 10 + ring.actualBoundingBoxLeft, 98 + ring.actualBoundingBoxAscent);

    const rest = `: FP = ${opts.fp.toFixed(2)}, CP = ${opts.cp.toFixed(2)}`;
    ctx.font = `italic ${TITLE_PX}px ${FONT}`;
    const wr = ctx.measureText('r').width;
    ctx.font = `${TITLE_PX}px ${FONT}`;
    const wRest = ctx.measureText(rest).width;
    const x1 = cx - (wr + wRest) / 2;
    ctx.font = `italic ${TITLE_PX}px ${FONT}`;
    ctx.fillText('r', x1, 163.5);
    ctx.font = `${TITLE_PX}px ${FONT}`;
    ctx.fillText(rest, x1 + wr, 163.5);
    ctx.restore();
  }
};

function makePanel(i) {
  const p = panels[i];
  const axisW = i === 0 ? 117 : 24;
  const cv = document.createElement('canvas');
  cv.width = axisW + PLOT_W + 8;
  cv.height = FIG_H;
  cv.style.left = (PLOT_LEFT[i] - axisW) + 'px';
  document.getElementById('fig').appendChild(cv);

  const series = [p.gt, p.fp, p.cp];
  const order = [0, 2, 1];   // ground truth drawn on top

  new Chart(cv, {
    type: 'line',
    data: {
      datasets: series.map((s, k) => ({
        label: legendLabels[k],
        data: s.map(([x, y]) => ({ x, y })),
        borderColor: COLORS[k],
        borderWidth: WIDTHS[k],
        pointRadius: 0,
        fill: false,
        cubicInterpolationMode: 'monotone',
        borderJoinStyle: 'round',
        clip: 0,
        order: order[k],
      })),
    },
    options: {
      responsive: false,
      animation: false,
      devicePixelRatio: 1,
      layout: { padding: { left: 0, right: 8, top: PLOT_TOP, bottom: 0 } },
      plugins: {
        legend: { display: false },
        tooltip: { enabled: false },
        panelTitle: { yaw: yawDeg[i], fp: rFP[i], cp: rCP[i] },
      },
      scales: {
        x: {
          type: 'linear',
          min: 0,
          max: 5.3,
          afterBuildTicks: s => { s.ticks = xTicks.map(v => ({ value: v })); },
          afterFit: s => { s.height = FIG_H - PLOT_BOTTOM; },
          grid: { color: GRID, lineWidth: 2, drawTicks: true, tickLength: 11, tickColor: SPINE, tickWidth: 2.5 },
          border: { display: true, color: SPINE, width: 2.5 },
          ticks: { font: { size: 26 }, color: '#262626', padding: 11, maxRotation: 0, autoSkip: false, callback: v => minus(v) },
          title: { display: true, text: 'Time (s)', font: { size: 32 }, color: '#1a1a1a', padding: { top: 0, bottom: -2 } },
        },
        y: {
          type: 'linear',
          min: -2.8,
          max: 2.8,
          afterBuildTicks: s => { s.ticks = yTicks.map(v => ({ value: v })); },
          afterFit: s => { s.width = axisW; },
          grid: { color: GRID, lineWidth: 2, drawTicks: true, tickLength: 11, tickColor: SPINE, tickWidth: 2.5 },
          border: { display: true, color: SPINE, width: 2.5 },
          ticks: { display: i === 0, font: { size: 26 }, color: '#262626', padding: 15, callback: v => minus(v) },
          title: { display: i === 0, text: 'BVP (z-score)', font: { size: 32 }, color: '#1a1a1a', padding: { top: -5, bottom: 0 } },
        },
      },
    },
    plugins: [panelTitle],
  });
}

// shared legend across the top
function makeLegend() {
  const fig = document.getElementById('fig');
  const lineX = [1314, 1722, 2143];
  const textX = [1415, 1820, 2241];
  legendLabels.forEach((lab, k) => {
    const ln = document.createElement('div');
    ln.className = 'lg-line';
    ln.style.left = lineX[k] + 'px';
    ln.style.width = '73px';
    ln.style.height = WIDTHS[k] + 'px';
    ln.style.top = (16 - WIDTHS[k] / 2) + 'px';
    ln.style.background = COLORS[k];
    fig.appendChild(ln);
    const tx = document.createElement('div');
    tx.className = 'lg-text';
    tx.style.left = textX[k] + 'px';
    tx.style.top = '-1px';
    tx.textContent = lab;
    fig.appendChild(tx);
  });
}

makeLegend();
for (let i = 0; i < panels.length; i++) makePanel(i);
</script>
</body>
</html>
